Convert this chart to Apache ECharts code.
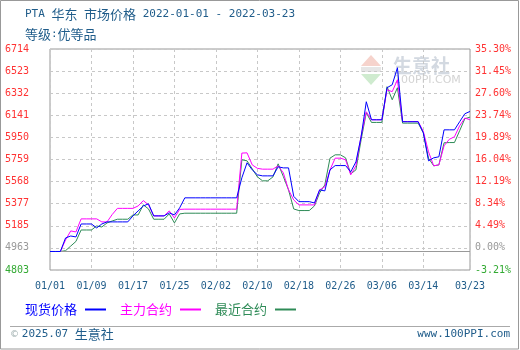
<!DOCTYPE html>
<html><head><meta charset="utf-8">
<script src="https://cdn.jsdelivr.net/npm/echarts@6/dist/echarts.min.js"></script>
<style>html,body{margin:0;padding:0;background:#fff}#c{width:520px;height:350px}</style>
</head><body><div id="c"></div>
<script>
const dates = ['01/01','01/02','01/03','01/04','01/05','01/06','01/07','01/08','01/09','01/10','01/11','01/12','01/13','01/14','01/15','01/16','01/17','01/18','01/19','01/20','01/21','01/22','01/23','01/24','01/25','01/26','01/27','01/28','01/29','01/30','01/31',
'02/01','02/02','02/03','02/04','02/05','02/06','02/07','02/08','02/09','02/10','02/11','02/12','02/13','02/14','02/15','02/16','02/17','02/18','02/19','02/20','02/21','02/22','02/23','02/24','02/25','02/26','02/27','02/28',
'03/01','03/02','03/03','03/04','03/05','03/06','03/07','03/08','03/09','03/10','03/11','03/12','03/13','03/14','03/15','03/16','03/17','03/18','03/19','03/20','03/21','03/22','03/23'];

const spotPrice = [4963,4963,4963,5080,5097,5089,5201,5201,5201,5167,5201,5219,5219,5219,5219,5219,5271,5314,5357,5375,5271,5271,5271,5297,5279,5340,
5427,5427,5427,5427,5427,5427,5427,5427,5427,5427,5427,
5600,5730,5669,5626,5617,5617,5617,5695,5686,5686,5440,5394,5394,5394,5383,5496,5487,5669,5706,5706,5706,5652,5738,5955,6258,6102,6102,6102,6379,6405,6552,6085,6085,6085,6085,5989,5747,5773,5782,6015,6015,6015,6085,6154,6174];

const mainContract = [4963,4963,4963,5063,5141,5132,5245,5245,5245,5245,5219,5219,5283,5336,5336,5336,5336,5357,5403,5366,5271,5271,5271,5314,5253,5327,
5329,5329,5329,5329,5329,5329,5329,5329,5329,5329,5329,
5814,5816,5712,5682,5675,5675,5675,5704,5643,5496,5409,5366,5366,5366,5366,5496,5522,5669,5770,5770,5756,5626,5704,5963,6171,6102,6102,6102,6362,6345,6448,6087,6087,6087,6087,6001,5825,5704,5712,5877,5933,5955,6050,6117,6102];

const nearContract = [4963,4963,4963,4970,5010,5050,5149,5149,5149,5184,5175,5210,5227,5242,5242,5242,5279,5279,5366,5331,5242,5242,5242,5288,5210,5288,
5294,5294,5294,5294,5294,5294,5294,5294,5294,5294,5294,
5756,5747,5678,5608,5574,5574,5608,5721,5611,5496,5331,5317,5317,5317,5357,5470,5539,5770,5799,5799,5773,5634,5669,5929,6163,6079,6079,6079,6388,6275,6379,6073,6073,6073,6073,5989,5769,5704,5712,5903,5905,5905,6007,6111,6125];

const leftTickLabels = ['4803','4963','5185','5377','5568','5759','5950','6141','6332','6523','6714'];
const rightTickLabels = ['-3.21%','0.00%','4.49%','8.34%','12.19%','16.04%','19.89%','23.74%','27.60%','31.45%','35.30%'];
const seriesNames = ['现货价格','主力合约','最近合约'];
const seriesColors = ['#0000ff','#ff00ff','#2e8b57'];
const titleText = 'PTA 华东 市场价格 2022-01-01 - 2022-03-23';

const yMin = 4803, yMax = 6714, yStep = 191.1, basePrice = 4963;
const MONO = "'DejaVu Sans Mono', monospace";
const CJK = "'Noto Sans CJK SC', sans-serif";
const TXT = '#1f5c8a';

function richTitle(s){
  let out = '', cur = '', curType = null;
  for (const ch of s) {
    const t = /[\u3000-\u9fff\uff00-\uffef]/.test(ch) ? 'c' : 'a';
    if (t !== curType && cur) { out += '{' + curType + '|' + cur + '}'; cur = ''; }
    curType = t; cur += ch;
  }
  if (cur) out += '{' + curType + '|' + cur + '}';
  return out;
}
const titleRich = {
  a: {fontFamily: MONO, fontSize: 11, fontWeight: 'normal', color: TXT},
  c: {fontFamily: CJK, fontSize: 13, fontWeight: 'normal', color: TXT},
  s: {fontFamily: 'DejaVu Sans', fontSize: 9, fontWeight: 'normal', color: '#9aa'}
};
const titleTS = {fontWeight: 'normal', rich: titleRich};
function tickIndex(v){ return Math.round((v - yMin) / yStep); }
function tickStyle(k){ return k === 0 ? 'g' : (k === 1 ? 'n' : 'r'); }
const tickRich = {
  r: {color: '#ff3333', fontFamily: MONO, fontSize: 10},
  n: {color: '#999999', fontFamily: MONO, fontSize: 10},
  g: {color: '#33aa33', fontFamily: MONO, fontSize: 10}
};
const showIdx = (i) => (i % 8 === 0 && i <= 72) || i === dates.length - 1;

const chart = echarts.init(document.getElementById('c'), null, {renderer: 'canvas'});
chart.setOption({
  animation: false,
  backgroundColor: '#fff',
  title: [
    {left: 25, top: 8, padding: 0, text: richTitle(titleText), textStyle: titleTS},
    {left: 25, top: 28, padding: 0, text: richTitle('等级:优等品'), textStyle: titleTS},
    {left: 10, top: 328, padding: 0, text: '{s|© }' + richTitle('2025.07 生意社'), textStyle: titleTS},
    {right: 10, top: 329, padding: 0, text: 'www.100PPI.com', textStyle: {fontFamily: MONO, fontSize: 11, fontWeight: 'normal', color: TXT}}
  ],
  grid: {left: 50, right: 50, top: 49, bottom: 80, show: true, borderColor: '#999', borderWidth: 1},
  legend: {
    left: 25, top: 303, padding: 0, itemGap: 14, align: 'right',
    itemWidth: 21, itemHeight: 2, icon: 'rect',
    textStyle: {fontFamily: CJK, fontSize: 13, padding: [0, 3, 0, 0]},
    data: seriesNames.map((n, i) => ({name: n, textStyle: {color: seriesColors[i]}, itemStyle: {color: seriesColors[i], borderWidth: 0}}))
  },
  xAxis: {
    type: 'category', data: dates, boundaryGap: false,
    axisLine: {show: false}, axisTick: {show: false},
    axisLabel: {interval: showIdx, color: TXT, fontFamily: MONO, fontSize: 10, margin: 11},
    splitLine: {show: true, interval: showIdx, lineStyle: {color: '#c8c8c8', type: [3, 3]}}
  },
  yAxis: [
    {
      type: 'value', position: 'left', min: yMin, max: yMax, interval: yStep,
      axisLine: {show: false}, axisTick: {show: false},
      axisLabel: {align: 'left', margin: 45, formatter: v => { const k = tickIndex(v); return '{' + tickStyle(k) + '|' + leftTickLabels[k] + '}'; }, rich: tickRich},
      splitLine: {show: true, lineStyle: {color: '#c8c8c8', type: [3, 3]}}
    },
    {
      type: 'value', position: 'right', min: yMin, max: yMax, interval: yStep,
      axisLine: {show: false}, axisTick: {show: false},
      axisLabel: {align: 'left', margin: 5, formatter: v => { const k = tickIndex(v); return '{' + tickStyle(k) + '|' + rightTickLabels[k] + '}'; }, rich: tickRich},
      splitLine: {show: false}
    }
  ],
  series: [
    {name: seriesNames[2], type: 'line', data: nearContract, symbol: 'none', z: 3,
     lineStyle: {width: 1, color: seriesColors[2]}, itemStyle: {color: seriesColors[2]},
     markLine: {silent: true, symbol: 'none', label: {show: false}, lineStyle: {color: '#999', type: 'solid', width: 1}, data: [{yAxis: basePrice}]}},
    {name: seriesNames[1], type: 'line', data: mainContract, symbol: 'none', z: 4,
     lineStyle: {width: 1, color: seriesColors[1]}, itemStyle: {color: seriesColors[1]}},
    {name: seriesNames[0], type: 'line', data: spotPrice, symbol: 'none', z: 5,
     lineStyle: {width: 1, color: seriesColors[0]}, itemStyle: {color: seriesColors[0]}}
  ],
  graphic: [
    {type: 'rect', silent: true, shape: {x: 0.5, y: 0.5, width: 518, height: 348.5}, style: {fill: 'none', stroke: '#999', lineWidth: 1}},
    {type: 'line', silent: true, shape: {x1: 10, y1: 326.5, x2: 510, y2: 326.5}, style: {stroke: '#aaa', lineWidth: 1}},
    {type: 'polygon', silent: true, z: -1, shape: {points: [[361, 66], [371, 55], [381, 66]]}, style: {fill: '#f6d3cc'}},
    {type: 'rect', silent: true, z: -1, shape: {x: 361, y: 67, width: 20, height: 5}, style: {fill: '#e6e6e6'}},
    {type: 'polygon', silent: true, z: -1, shape: {points: [[361, 74], [381, 74], [371, 85]]}, style: {fill: '#cfebcf'}},
    {type: 'text', silent: true, z: -1, x: 393, y: 56, style: {text: '生意社', font: "bold 19px 'Noto Sans CJK SC'", fill: '#d3d9e1', verticalAlign: 'top'}},
    {type: 'text', silent: true, z: -1, x: 394, y: 75, style: {text: '100PPI.COM', font: "11px 'DejaVu Sans'", fill: '#d3d3d3', verticalAlign: 'top'}}
  ]
});
</script>
</body></html>
